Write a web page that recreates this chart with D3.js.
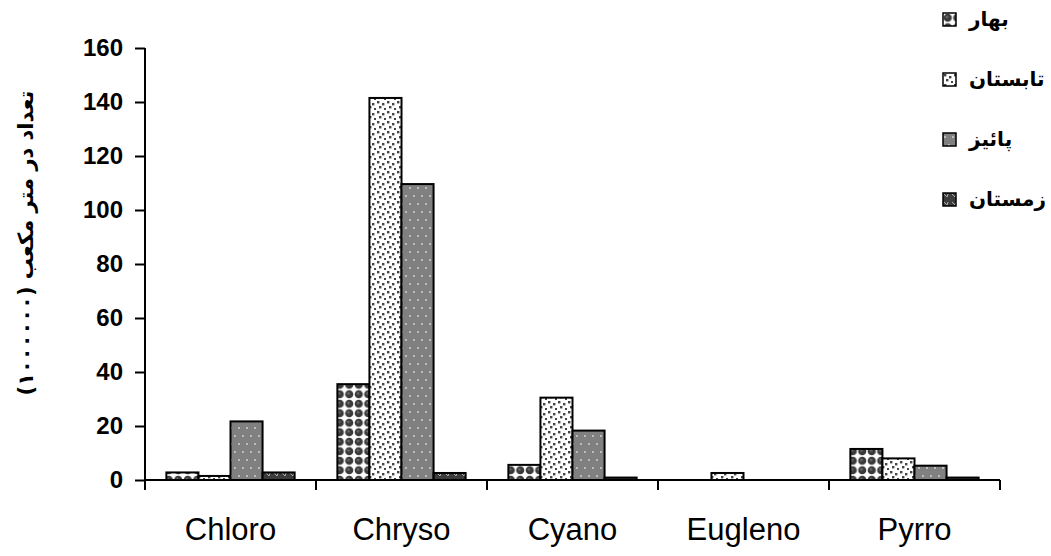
<!DOCTYPE html>
<html>
<head>
<meta charset="utf-8">
<script src="https://cdn.jsdelivr.net/npm/d3@7"></script>
<style>
  html, body { margin: 0; padding: 0; background: #fff; }
  svg { display: block; }
</style>
</head>
<body>
<svg id="chart" width="1051" height="556"></svg>
<script>
// Phytoplankton groups and seasonal counts (per cubic metre, x 1,000,000)
const categories = ["Chloro", "Chryso", "Cyano", "Eugleno", "Pyrro"];
const seasons = ["بهار", "تابستان", "پائیز", "زمستان"];
const spring = [2.8, 35.5, 5.6, 0, 11.5];
const summer = [1.5, 141.5, 30.5, 2.6, 8];
const autumn = [21.7, 109.6, 18.3, 0, 5.3];
const winter = [2.8, 2.6, 0.9, 0, 0.9];
const yTicks = [0, 20, 40, 60, 80, 100, 120, 140, 160];
const yTitle = "تعداد در متر مکعب (۱۰۰۰۰۰۰)";

const seriesValues = [spring, summer, autumn, winter];

const svg = d3.select("#chart");
const plotLeft = 145, plotRight = 1000, plotTop = 48, plotBottom = 480;

const x0 = d3.scaleBand().domain(categories).range([plotLeft, plotRight]).padding(0);
const bw = x0.bandwidth();
const x1 = d3.scaleBand().domain(d3.range(seasons.length)).range([bw * 0.125, bw * 0.875]).padding(0);
const y = d3.scaleLinear().domain([0, 160]).range([plotBottom, plotTop]);

// Fill patterns for each season
const defs = svg.append("defs");
function pattern(id, w, h) {
  return defs.append("pattern").attr("id", id).attr("patternUnits", "userSpaceOnUse")
    .attr("width", w).attr("height", h);
}
// spring: dark balls on white
let p = pattern("pat0", 9.5, 9.5);
p.append("rect").attr("width", 9.5).attr("height", 9.5).attr("fill", "#fff");
p.append("circle").attr("cx", 4.75).attr("cy", 4.75).attr("r", 4.1).attr("fill", "#3a3a3a");
p.append("circle").attr("cx", 4).attr("cy", 4).attr("r", 1.3).attr("fill", "#6a6a6a");
// summer: scattered dark specks on white
p = pattern("pat1", 10, 10);
p.append("rect").attr("width", 10).attr("height", 10).attr("fill", "#fff");
[[1, 1], [6, 3], [3, 6], [8, 8]].forEach(([a, b]) =>
  p.append("rect").attr("x", a).attr("y", b).attr("width", 2.4).attr("height", 2.4).attr("fill", "#454545"));
// autumn: grey with sparse light dots
p = pattern("pat2", 8, 16);
p.append("rect").attr("width", 8).attr("height", 16).attr("fill", "#808080");
p.append("circle").attr("cx", 2).attr("cy", 4).attr("r", 0.9).attr("fill", "#d8d8d8");
p.append("circle").attr("cx", 6).attr("cy", 12).attr("r", 0.9).attr("fill", "#d8d8d8");
// winter: dark with light diagonal marks
p = pattern("pat3", 8, 8);
p.append("rect").attr("width", 8).attr("height", 8).attr("fill", "#3c3c3c");
p.append("path").attr("d", "M1,1 L4,4 M5,1 L4,4").attr("stroke", "#b0b0b0").attr("stroke-width", 1);

// Bars
const groups = svg.append("g").selectAll("g").data(categories).join("g")
  .attr("transform", d => `translate(${x0(d)},0)`);
groups.selectAll("rect")
  .data((c, ci) => seriesValues.map((vals, si) => ({ si, v: vals[ci] })).filter(d => d.v > 0))
  .join("rect")
  .attr("x", d => x1(d.si))
  .attr("y", d => y(d.v))
  .attr("width", x1.bandwidth())
  .attr("height", d => y(0) - y(d.v))
  .attr("fill", d => `url(#pat${d.si})`)
  .attr("stroke", "#000")
  .attr("stroke-width", 2);

// Y axis
const yAxis = svg.append("g").attr("transform", `translate(${plotLeft},0)`)
  .call(d3.axisLeft(y).tickValues(yTicks).tickSize(10).tickPadding(12));
yAxis.select(".domain").attr("stroke", "#000").attr("stroke-width", 2)
  .attr("d", `M0,${plotTop}V${plotBottom + 10}`);
yAxis.selectAll(".tick line").attr("stroke", "#000").attr("stroke-width", 2);
yAxis.selectAll(".tick text")
  .attr("font-family", "'Liberation Sans', Arial, sans-serif")
  .attr("font-weight", "bold").attr("font-size", 24).attr("fill", "#000");

// X axis
const xAxis = svg.append("g").attr("transform", `translate(0,${plotBottom})`)
  .call(d3.axisBottom(x0).tickSize(0).tickPadding(38));
xAxis.select(".domain").attr("stroke", "#000").attr("stroke-width", 2)
  .attr("d", `M${plotLeft},0H${plotRight}`);
xAxis.selectAll(".tick text")
  .attr("font-family", "'Liberation Sans', Arial, sans-serif")
  .attr("font-size", 31).attr("fill", "#000");
const bounds = categories.map(c => x0(c) + bw);
xAxis.selectAll("line.bound").data(bounds).join("line").attr("class", "bound")
  .attr("x1", d => d).attr("x2", d => d).attr("y1", 0).attr("y2", 10)
  .attr("stroke", "#000").attr("stroke-width", 2);

// Y axis title
svg.append("text")
  .attr("transform", "translate(33,243) rotate(-90)")
  .attr("text-anchor", "middle")
  .attr("font-family", "'DejaVu Sans', sans-serif")
  .attr("font-weight", "bold").attr("font-size", 21)
  .attr("fill", "#000")
  .text(yTitle);

// Legend
const legend = svg.append("g").selectAll("g").data(seasons).join("g")
  .attr("transform", (d, i) => `translate(943,${13 + i * 60})`);
legend.append("rect").attr("width", 13).attr("height", 13)
  .attr("fill", (d, i) => `url(#pat${i})`).attr("stroke", "#000").attr("stroke-width", 1.5);
legend.append("text").attr("x", 26).attr("y", 13)
  .attr("font-family", "'DejaVu Sans', sans-serif")
  .attr("font-weight", "bold").attr("font-size", 20).attr("fill", "#000")
  .text(d => d);
</script>
</body>
</html>
